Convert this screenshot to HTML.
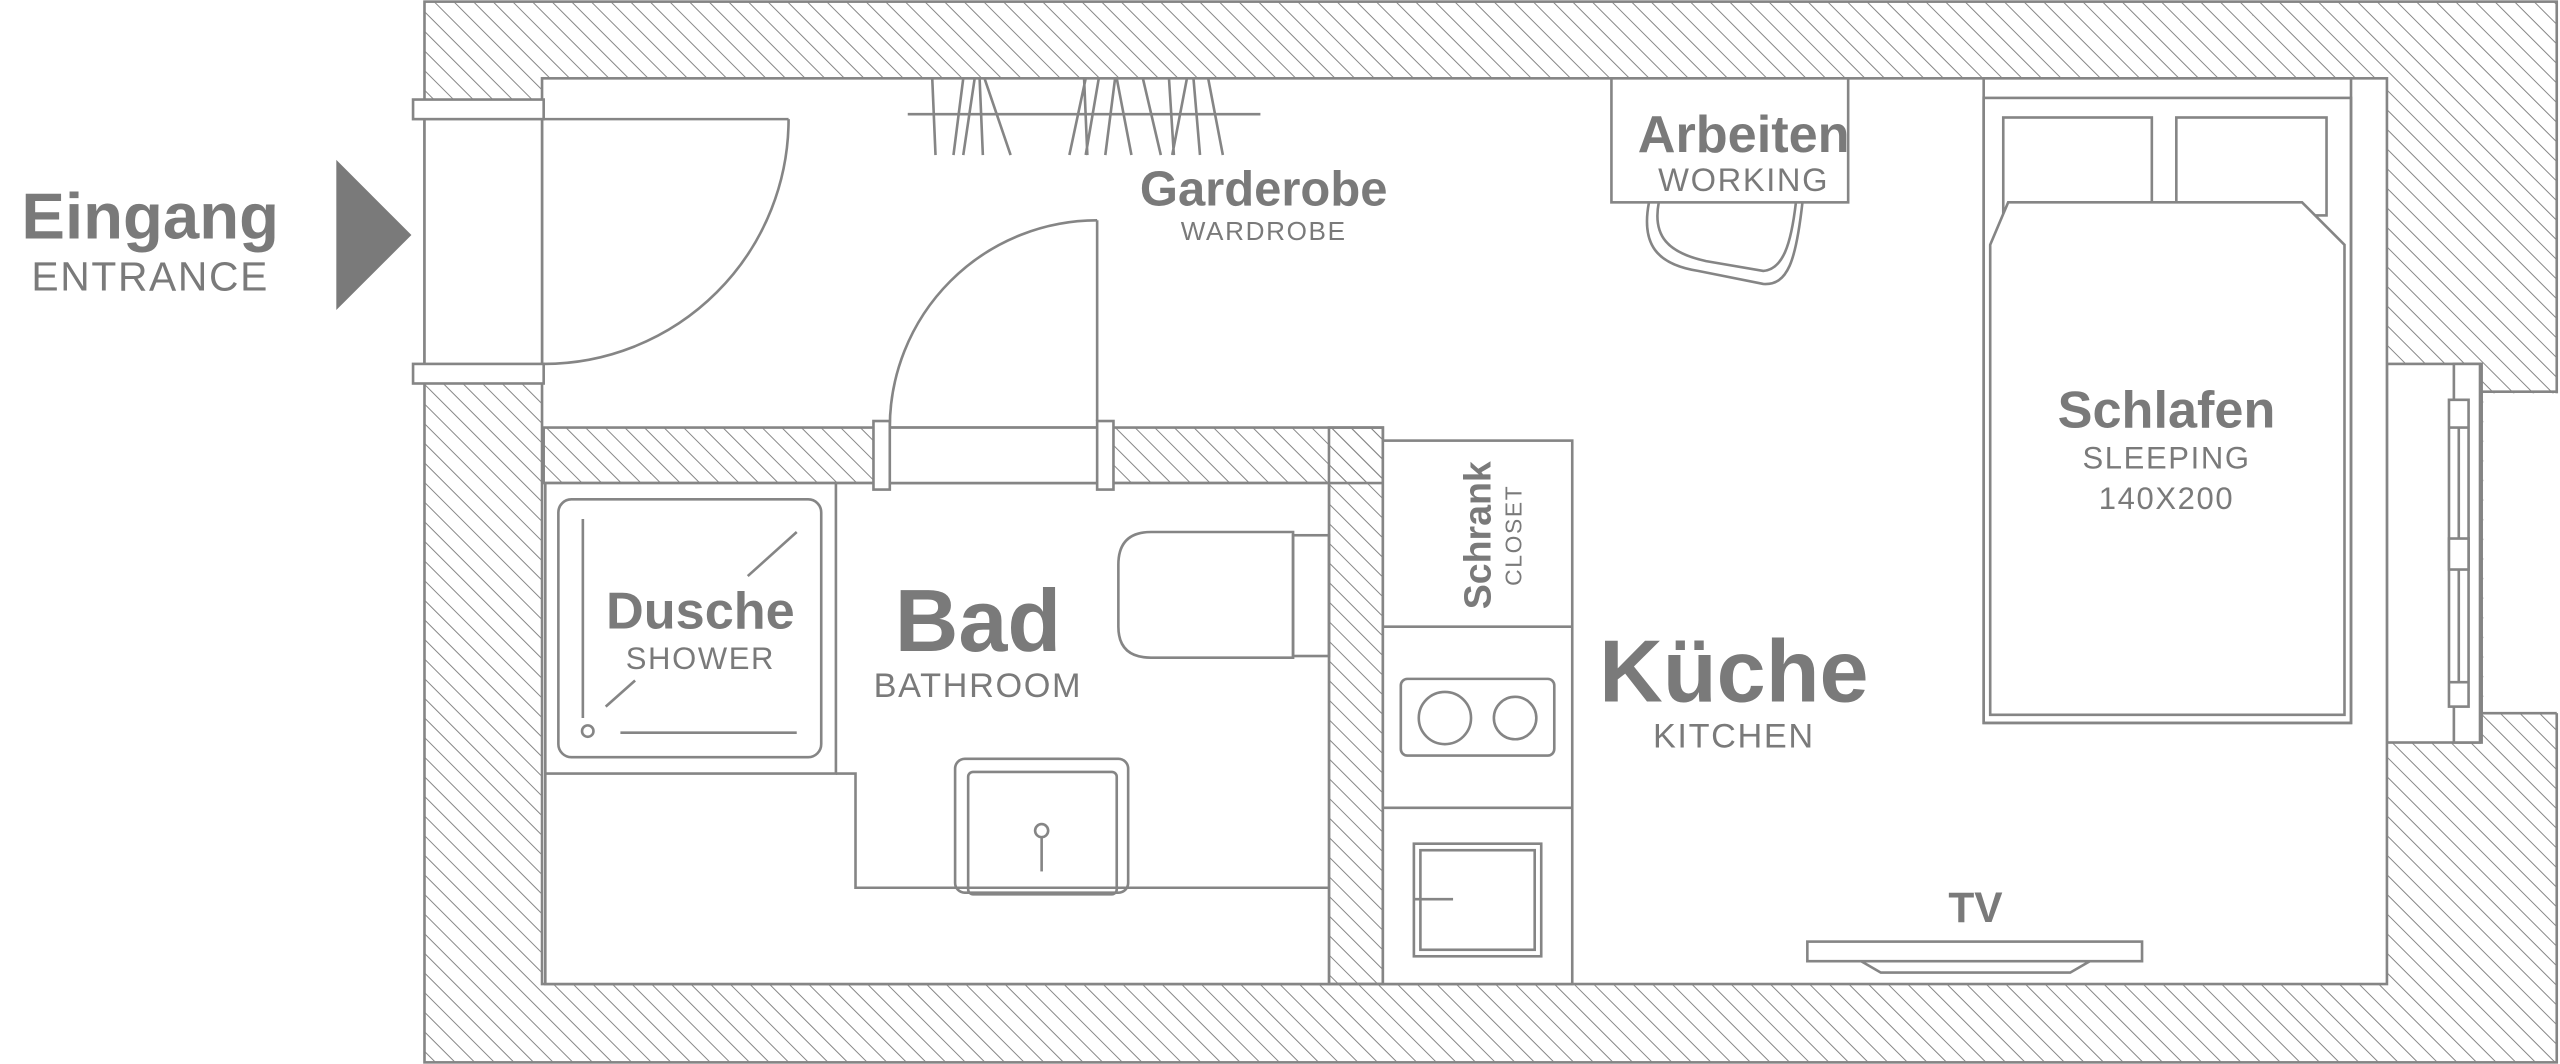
<!DOCTYPE html>
<html><head><meta charset="utf-8"><style>
html,body{margin:0;padding:0;background:#fff;width:2560px;height:1064px;overflow:hidden}
svg{display:block}
text{font-family:"Liberation Sans",Arial,sans-serif;fill:#7a7a7a}
.b{font-weight:bold}
</style></head><body>
<svg width="2560" height="1064" viewBox="0 0 1568 652" preserveAspectRatio="none" xmlns="http://www.w3.org/2000/svg">
<defs>
<pattern id="h" patternUnits="userSpaceOnUse" width="8.5" height="8.5" patternTransform="rotate(-45)">
<line x1="0" y1="0" x2="0" y2="8.5" stroke="#858585" stroke-width="1.2"/>
</pattern>
</defs>
<g stroke="#858585" stroke-width="1.6" fill="none">
<rect x="260" y="1" width="1306" height="650" fill="url(#h)"/>
<rect x="1521" y="241" width="47" height="196" fill="#fff" stroke="none"/>
<polyline points="1566,240 1520,240 1520,437 1566,437"/>
<rect x="1462" y="223" width="58" height="232" fill="#fff"/>
<rect x="1503" y="223" width="16" height="232" fill="#fff"/>
<rect x="1500" y="245" width="12" height="188" fill="#fff"/>
<line x1="1506" y1="262" x2="1506" y2="418"/>
<rect x="1500" y="330" width="12" height="19" fill="#fff"/>
<line x1="1500" y1="262" x2="1512" y2="262"/>
<line x1="1500" y1="418" x2="1512" y2="418"/>
<rect x="332" y="48" width="1130" height="555" fill="#fff"/>
<rect x="333" y="262" width="514" height="34" fill="url(#h)"/>
<rect x="814" y="262" width="33" height="341" fill="url(#h)"/>
<rect x="334" y="296" width="480" height="307" fill="#fff"/>
<rect x="540" y="262" width="136" height="34" fill="#fff"/>
<rect x="535" y="258" width="10" height="42" fill="#fff"/>
<rect x="672" y="258" width="10" height="42" fill="#fff"/>
<line x1="672" y1="135" x2="672" y2="258"/>
<path d="M672,135 A127,127 0 0 0 545,262"/>
<rect x="260" y="62" width="72" height="172" fill="#fff"/>
<rect x="253" y="61" width="80" height="12" fill="#fff"/>
<rect x="253" y="223" width="80" height="12" fill="#fff"/>
<line x1="333" y1="73" x2="483" y2="73"/>
<path d="M483,73 A150,150 0 0 1 333,223"/>
<line x1="556" y1="70" x2="772" y2="70"/>
<path d="M571,48 L573,95 M584,95 L590,48 M590,95 L597,48 M600,48 L602,95 M603,48 L619,95 M655,95 L665,48 M664,48 L666,95 M665,95 L673,48 M684,48 L693,95 M683,48 L677,95 M700,48 L711,95 M716,48 L719,95 M718,95 L727,48 M731,48 L735,95 M740,48 L749,95"/>
<rect x="987" y="48" width="145" height="76" fill="#fff"/>
<path d="M1010,124 C1005,150 1015,162 1040,166 L1080,174 C1095,175 1100,160 1104,124"/>
<path d="M1016,124 C1012,145 1022,155 1045,160 L1080,166 C1092,165 1097,150 1100,124"/>
<rect x="1215" y="48" width="225" height="395" fill="#fff"/>
<rect x="1215" y="60" width="225" height="383"/>
<rect x="1227" y="72" width="91" height="60"/>
<rect x="1333" y="72" width="92" height="60"/>
<path d="M1230,124 L1410,124 L1436,150 L1436,438 L1219,438 L1219,150 Z" fill="#fff"/>
<rect x="342" y="306" width="161" height="158" rx="8"/>
<line x1="357" y1="318" x2="357" y2="440"/>
<line x1="380" y1="449" x2="488" y2="449"/>
<line x1="458" y1="353" x2="488" y2="326"/>
<line x1="371" y1="433" x2="389" y2="417"/>
<circle cx="360" cy="448" r="3.5"/>
<polyline points="512,296 512,474 334,474"/>
<polyline points="512,474 524,474 524,544 814,544"/>
<rect x="585" y="465" width="106" height="82" rx="6"/>
<rect x="593" y="473" width="91" height="75" rx="3"/>
<line x1="638" y1="510" x2="638" y2="534"/>
<circle cx="638" cy="509" r="4" fill="#fff"/>
<path d="M792,326 L705,326 Q685,326 685,346 L685,384 Q685,403 705,403 L792,403 Z"/>
<rect x="792" y="328" width="22" height="74"/>
<rect x="847" y="270" width="116" height="333" fill="#fff"/>
<line x1="847" y1="384" x2="963" y2="384"/>
<line x1="847" y1="495" x2="963" y2="495"/>
<rect x="858" y="416" width="94" height="47" rx="4"/>
<circle cx="885" cy="440" r="16"/>
<circle cx="928" cy="440" r="13"/>
<rect x="866" y="517" width="78" height="69"/>
<rect x="870" y="521" width="70" height="61"/>
<line x1="866" y1="551" x2="890" y2="551"/>
<rect x="1107" y="577" width="205" height="12"/>
<polyline points="1140,589 1152,596 1268,596 1280,589"/>
</g>
<polygon points="206,98 252,144 206,190" fill="#7a7a7a"/>
<text x="92" y="146" class="b" font-size="40" text-anchor="middle">Eingang</text>
<text x="92" y="178" font-size="25" text-anchor="middle" letter-spacing="1">ENTRANCE</text>
<text x="774" y="126" class="b" font-size="30" text-anchor="middle">Garderobe</text>
<text x="774" y="147" font-size="16" text-anchor="middle" letter-spacing="1">WARDROBE</text>
<text x="1068" y="93" class="b" font-size="32" text-anchor="middle">Arbeiten</text>
<text x="1068" y="117" font-size="20" text-anchor="middle" letter-spacing="1">WORKING</text>
<text x="1327" y="262" class="b" font-size="32" text-anchor="middle">Schlafen</text>
<text x="1327" y="287" font-size="19" text-anchor="middle" letter-spacing="1">SLEEPING</text>
<text x="1327" y="312" font-size="19" text-anchor="middle" letter-spacing="1">140X200</text>
<text x="429" y="385" class="b" font-size="32" text-anchor="middle">Dusche</text>
<text x="429" y="410" font-size="19" text-anchor="middle" letter-spacing="1">SHOWER</text>
<text x="599" y="399" class="b" font-size="54" text-anchor="middle">Bad</text>
<text x="599" y="427" font-size="21" text-anchor="middle" letter-spacing="1">BATHROOM</text>
<text x="1062" y="430" class="b" font-size="54" text-anchor="middle">Küche</text>
<text x="1062" y="458" font-size="21" text-anchor="middle" letter-spacing="1">KITCHEN</text>
<text x="1210" y="565" class="b" font-size="26" text-anchor="middle">TV</text>
<text transform="translate(913,328) rotate(-90)" class="b" font-size="23" text-anchor="middle">Schrank</text>
<text transform="translate(932,328) rotate(-90)" font-size="14" text-anchor="middle" letter-spacing="1">CLOSET</text>
</svg>
</body></html>
